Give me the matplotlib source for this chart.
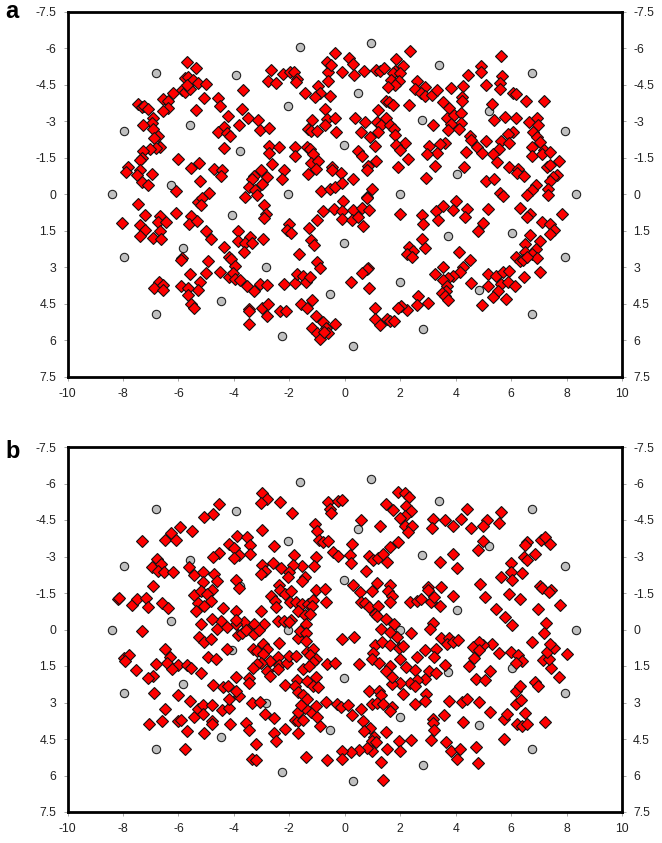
import numpy as np
import matplotlib
matplotlib.use('Agg')
import matplotlib.pyplot as plt

plt.rcParams['font.family'] = ['Liberation Sans', 'DejaVu Sans']
plt.rcParams['axes.unicode_minus'] = False

# grey reference spots, same in both panels
grey_x = [-6.79,-3.94,-1.62,-2.03,-7.96,-5.59,-3.77,-6.27,-8.4,-2.03,0.94,3.41,6.74,0.46,5.21,2.8,7.95,-0.03,4.05,2.0,8.34,
          -4.07,-5.84,-7.96,-2.84,-0.53,-4.45,-6.79,-2.25,-0.03,3.71,6.02,7.95,2.0,4.84,6.74,2.83,0.30]
grey_y = [-4.96,-4.88,-6.05,-3.62,-2.60,-2.85,-1.78,-0.36,0,0,-6.2,-5.29,-4.96,-4.14,-3.43,-3.05,-2.6,-2.03,-0.81,0,0,
          0.84,2.23,2.59,3.0,4.11,4.41,4.92,5.84,2.0,1.73,1.59,2.59,3.6,3.92,4.92,5.56,6.23]

# red spots panel a, (x, y)
red_a = [(-5.70,-5.41),(-5.35,-5.16),(-5.76,-4.75),(-5.64,-4.82),(-5.46,-4.68),(-5.28,-4.58),(-5.01,-4.52),(-5.88,-4.27),(-5.76,-4.21),(-5.58,-4.30),
(-5.70,-4.48),(-6.18,-4.14),(-6.57,-3.89),(-6.39,-3.81),(-6.37,-3.52),(-6.55,-3.41),(-5.06,-3.93),(-4.56,-3.93),(-4.51,-3.62),(-5.38,-3.47),
(-3.68,-4.26),(-3.69,-3.49),(-4.22,-3.21),(-3.50,-3.14),(-3.13,-3.05),(-3.80,-2.82),(-3.04,-2.63),(-2.73,-2.71),(-4.36,-2.77),(-4.56,-2.56),
(-4.25,-2.53),(-4.13,-2.38),(-4.34,-1.89),(-7.46,-3.71),(-7.32,-3.56),(-7.24,-3.62),(-7.08,-3.49),(-6.92,-3.11),(-6.97,-2.93),(-7.28,-2.84),
(-6.90,-2.66),(-6.75,-2.38),(-6.88,-2.32),(-6.68,-1.95),(-6.81,-1.88),(-7.02,-1.84),(-7.28,-1.78),(-7.32,-1.47),(-7.40,-1.40),(-6.00,-1.44),
(-5.25,-1.27),(-5.53,-1.07),(-4.72,-1.04),(-4.41,-0.97),(-4.48,-0.75),(-5.23,-0.53),(-6.07,-0.11),(-7.82,-1.10),(-7.90,-0.90),(-7.40,-0.99),
(-7.50,-0.78),(-7.30,-0.51),(-7.08,-0.37),(-6.94,-0.81),(-4.89,-0.03),(-2.67,-5.10),(-2.22,-4.95),(-1.97,-5.03),(-1.83,-5.00),(-1.71,-4.71),
(-1.75,-4.62),(-2.78,-4.64),(-2.48,-4.55),(-1.45,-4.14),(-0.95,-4.44),(-0.89,-4.16),(-1.06,-3.99),(-0.53,-4.04),(-0.59,-5.00),(-0.59,-4.66),
(-0.65,-5.41),(-0.50,-5.30),(-0.34,-5.81),(-0.71,-3.49),(-1.18,-3.04),(-0.65,-3.07),(-0.35,-3.11),(-0.71,-2.84),(-1.33,-2.67),(-1.23,-2.60),
(-1.01,-2.58),(-0.31,-2.55),(-2.73,-1.96),(-2.37,-1.92),(-2.73,-1.67),(-1.81,-1.92),(-1.81,-1.58),(-1.36,-1.93),(-1.27,-1.85),(-1.13,-1.63),
(-1.23,-1.26),(-0.95,-1.37),(-1.05,-1.05),(-2.61,-1.22),(-2.18,-1.01),(-2.27,-0.63),(-1.33,-0.82),(-2.81,-0.71),(-3.02,-0.97),(-3.29,-0.75),
(-3.35,-0.62),(-3.44,-0.30),(-2.99,-0.40),(-3.23,-0.16),(-3.17,0.04),(-0.47,-1.10),(-0.47,-0.99),(-0.85,-0.11),(-0.53,-0.23),(-0.35,-0.30),(-3.58,0.11),
(0.15,-5.60),(0.30,-5.34),(-0.09,-5.03),(0.32,-4.89),(0.68,-5.07),(1.12,-5.10),(1.27,-5.07),(1.42,-5.18),(1.85,-5.55),(2.11,-5.27),
(2.34,-5.89),(1.81,-5.07),(1.75,-4.96),(1.99,-4.96),(1.67,-4.68),(1.97,-4.66),(1.81,-4.48),(1.56,-4.40),(2.59,-4.66),(2.53,-4.30),
(2.89,-4.40),(2.74,-4.14),(2.89,-4.04),(3.13,-4.07),(3.33,-4.26),(3.85,-4.37),(4.26,-4.44),(4.46,-4.90),(4.92,-5.26),(4.91,-5.00),
(5.64,-5.67),(5.68,-4.84),(5.60,-4.55),(5.60,-4.30),(5.09,-4.47),(6.07,-4.14),(6.16,-4.11),(6.52,-3.82),(7.18,-3.82),(4.23,-4.00),
(4.23,-3.81),(3.55,-3.77),(3.77,-3.53),(2.30,-3.64),(1.49,-3.84),(1.61,-3.79),(1.73,-3.67),(1.19,-3.44),(0.38,-3.12),(0.73,-2.96),
(1.15,-2.96),(1.29,-2.84),(1.49,-3.11),(1.63,-2.84),(1.79,-2.67),(0.58,-2.55),(0.91,-2.36),(1.21,-2.56),(1.80,-2.44),(3.20,-2.84),
(3.67,-3.14),(3.94,-3.25),(4.19,-3.32),(4.21,-2.93),(3.82,-2.86),(3.73,-2.63),(4.13,-2.67),(5.32,-3.71),(5.37,-3.03),(5.78,-3.15),
(6.19,-3.14),(6.65,-2.97),(6.94,-3.11),(6.98,-2.84),(6.80,-2.56),(6.94,-2.36),(7.04,-2.15),(6.08,-2.55),(5.90,-2.47),(5.62,-2.19),
(5.91,-2.10),(5.09,-2.18),(4.50,-2.40),(4.57,-2.22),(4.76,-1.92),(4.95,-1.68),(4.37,-1.74),(3.61,-2.08),(3.45,-2.05),(3.04,-1.96),
(3.31,-1.67),(2.95,-1.63),(2.17,-2.08),(1.85,-2.01),(2.01,-1.81),(1.10,-1.96),(0.49,-1.79),(0.64,-1.55),(1.14,-1.34),(0.85,-1.16),
(0.79,-0.99),(2.27,-1.44),(1.91,-1.10),(3.25,-1.16),(4.30,-1.11),(2.92,-0.67),(5.09,-0.52),(5.38,-0.62),(5.56,-1.86),(5.36,-1.63),
(5.49,-1.33),(5.92,-1.11),(6.26,-1.05),(6.21,-0.88),(6.47,-0.74),(6.75,-1.93),(6.75,-1.56),(7.17,-1.81),(7.12,-1.64),(7.40,-1.73),
(7.72,-1.36),(7.28,-1.12),(7.40,-1.19),(7.66,-0.79),(7.50,-0.71),(7.40,-0.55),(7.34,-0.23),(6.89,-0.36),(6.74,-0.16),(6.56,0.04),
(7.32,0.04),(5.60,-0.03),(5.72,0.07),(0.98,-0.22),(0.79,0.11),(0.28,-0.63),(-0.14,-0.88),(-0.09,-0.47),
(-7.44,0.40),(-7.20,0.84),(-8.04,1.19),(-7.38,1.25),(-7.21,1.48),(-7.37,1.73),(-6.65,0.89),(-6.72,1.14),(-6.43,1.16),(-6.68,1.53),
(-6.90,1.82),(-6.62,1.84),(-6.09,0.79),(-5.54,0.90),(-5.61,1.23),(-5.34,1.10),(-5.01,1.51),(-4.81,1.86),(-5.31,0.34),(-5.16,0.18),
(-5.19,0.45),(-2.91,0.45),(-2.85,0.82),(-2.91,1.00),(-3.86,1.52),(-3.85,1.93),(-3.41,1.75),(-3.58,2.00),(-3.35,2.00),(-2.94,1.85),
(-3.65,2.38),(-4.36,2.19),(-4.19,2.58),(-4.09,2.66),(-3.97,2.96),(-5.88,2.64),(-5.90,2.71),(-4.93,2.73),(-5.58,3.30),(-4.99,3.25),
(-4.50,3.18),(-5.22,3.63),(-5.28,3.95),(-5.91,3.79),(-5.67,3.84),(-5.64,4.15),(-5.53,4.51),(-5.44,4.67),(-6.71,3.63),(-6.88,3.85),
(-6.57,3.74),(-6.54,3.92),(-4.16,3.41),(-4.04,3.26),(-3.97,3.47),(-3.77,3.52),(-3.53,3.77),(-3.27,4.00),(-3.05,3.70),(-2.81,3.75),
(-2.19,3.71),(-1.79,3.67),(-1.73,3.30),(-1.51,3.37),(-1.41,3.60),(-1.25,3.41),(-3.46,4.70),(-3.46,4.79),(-2.99,4.68),(-2.78,4.51),
(-2.81,5.01),(-3.44,5.32),(-2.33,4.82),(-2.13,4.79),(-1.56,4.51),(-1.37,4.66),(-1.18,4.37),(-1.03,4.99),(-1.17,5.48),(-1.01,5.70),
(-0.89,5.95),(-0.77,5.27),(-0.67,5.48),(-0.59,5.70),(-0.75,5.66),(-0.35,5.34),(-1.66,2.48),(-1.00,2.78),(-0.90,3.03),(-1.23,1.89),
(-1.11,2.10),(-2.00,1.23),(-2.09,1.48),(-1.94,1.59),(-1.29,1.38),(-0.99,1.05),(-0.78,0.70),(-0.38,0.62),
(-0.08,0.29),(-0.11,0.68),(0.28,0.66),(0.64,0.59),(0.89,0.66),(-0.11,1.03),(0.25,1.05),(0.49,0.96),(0.67,1.29),(0.79,0.14),
(2.00,0.81),(2.78,0.84),(2.84,1.21),(3.29,0.68),(3.55,0.49),(3.35,1.05),(4.01,0.29),(3.91,0.66),(4.41,0.63),(4.35,0.93),
(5.15,0.63),(4.98,1.18),(4.80,1.52),(6.33,0.56),(6.68,0.82),(6.58,0.96),(7.11,1.14),(7.40,1.21),(7.82,0.82),(7.54,1.48),
(7.40,1.62),(6.68,1.70),(6.50,2.03),(7.06,1.93),(6.89,2.25),(6.50,2.37),(6.75,2.47),(6.94,2.62),(6.16,2.59),(6.32,2.74),
(6.44,2.71),(6.56,2.58),(2.77,1.86),(2.90,2.22),(2.33,2.19),(2.45,2.34),(2.24,2.48),(2.41,2.58),(0.85,3.03),(0.79,3.08),
(0.64,3.25),(0.22,3.59),(0.89,3.84),(4.12,2.37),(4.53,2.70),(3.55,3.01),(3.25,3.29),(4.27,3.01),(4.15,3.21),(3.89,3.36),
(3.73,3.44),(3.53,3.53),(3.67,3.78),(3.65,3.99),(3.51,4.07),(3.61,4.19),(3.72,4.34),(4.56,3.67),(5.18,3.30),(5.45,3.36),
(5.69,3.22),(5.91,3.15),(5.18,3.77),(5.62,3.71),(5.89,3.59),(6.13,3.79),(6.46,3.40),(7.04,3.18),(5.52,3.97),(5.35,4.21),
(5.83,4.29),(4.95,4.55),(2.63,4.19),(3.02,4.47),(2.60,4.55),(2.23,4.74),(2.02,4.60),(1.93,4.67),(1.08,4.67),(1.10,5.11),
(1.26,5.38),(1.51,5.15),(1.63,5.22),(1.77,5.22)]

# red spots panel b, (x, y)
red_b = [(-3.00,-5.63),(-2.81,-5.37),(-3.02,-5.18),(-2.32,-5.26),(-1.90,-4.77),(-4.54,-5.15),(-4.77,-4.75),(-5.08,-4.64),(-5.93,-4.23),(-5.50,-4.03),
(-6.27,-3.95),(-6.48,-3.66),(-6.09,-3.66),(-7.33,-3.63),(-2.98,-4.07),(-3.87,-3.84),(-3.52,-3.81),(-3.43,-3.47),(-4.16,-3.51),(-4.01,-3.33),
(-2.56,-3.44),(-3.41,-3.12),(-3.81,-3.07),(-4.01,-2.92),(-4.54,-3.15),(-4.77,-3.00),(-1.83,-3.08),(-1.02,-2.99),(-1.11,-2.59),(-1.53,-2.59),
(-1.88,-2.67),(-2.60,-2.74),(-2.98,-2.67),(-2.87,-2.42),(-3.02,-2.29),(-2.30,-2.53),(-2.02,-2.37),(-2.03,-2.16),(-1.43,-2.16),(-1.53,-2.00),
(-0.61,-5.26),(-0.23,-5.29),(-0.55,-4.97),(-0.50,-4.78),(-1.06,-4.34),(-1.01,-4.03),(-0.93,-3.67),(-0.77,-3.60),(-0.61,-3.64),(-0.43,-3.18),
(-0.23,-3.03),(-6.77,-2.90),(-6.96,-2.58),(-6.61,-2.68),(-6.75,-2.42),(-6.51,-2.38),(-6.19,-2.37),(-5.60,-2.58),(-5.43,-2.23),(-5.10,-2.36),
(-4.70,-2.30),(-5.11,-1.95),(-4.59,-2.00),(-3.92,-2.03),(-3.80,-1.71),(-6.90,-1.79),(-8.19,-1.25),(-8.13,-1.30),(-7.66,-0.99),(-7.48,-1.25),
(-7.18,-1.30),(-7.09,-0.92),(-6.60,-1.07),(-6.37,-0.90),(-5.42,-1.41),(-5.20,-1.59),(-4.79,-1.64),(-4.97,-1.45),(-5.29,-1.10),(-4.82,-1.18),
(-5.06,-0.97),(-5.37,-0.77),(-4.39,-0.90),(-3.93,-0.75),(-3.03,-0.78),(-2.36,-1.82),(-2.33,-1.63),(-2.14,-1.44),(-1.94,-1.59),(-2.66,-1.38),
(-2.51,-1.19),(-2.48,-0.92),(-1.98,-1.12),(-1.77,-1.11),(-1.55,-1.04),(-1.33,-1.04),(-1.13,-1.21),(-1.19,-0.97),(-1.02,-1.63),(-0.72,-1.66),
(-0.69,-1.11),(-1.68,-0.74),(-1.45,-0.60),(-1.24,-0.62),(-1.39,-0.21),(-2.40,-0.36),(-2.19,-0.36),(-1.94,-0.40),(-2.00,-0.29),(-2.92,-0.22),
(-3.26,-0.22),(-3.53,-0.01),(-3.65,-0.29),(-3.93,-0.22),(-3.93,-0.40),(-4.47,-0.33),(-4.80,-0.42),(-4.59,-0.01),(-4.24,-0.10),(-5.20,-0.22),
(-7.33,0.05),(-5.24,0.32),(-5.07,0.53),(-4.83,0.37),(-3.86,0.23),(-3.69,0.16),(-3.56,0.01),(-3.29,0.19),(-3.11,0.03),(-2.94,0.58),
(-2.36,0.56),(-1.67,0.34),(-1.61,0.05),(-1.38,0.16),(-1.39,0.47),(-6.48,0.82),(-6.30,1.12),(-6.42,1.37),(-6.00,1.44),(-6.24,1.63),
(-5.68,1.47),(-5.54,1.60),(-5.18,1.78),(-4.24,0.79),(-4.92,1.14),(-4.63,1.22),(-7.96,1.19),(-7.77,1.05),(-7.92,1.30),(-7.52,1.66),
(-6.81,1.42),(-6.90,1.90),(-7.08,2.01),(-6.88,2.60),(-6.03,2.71),(-5.58,2.93),(-6.49,3.25),(-7.06,3.90),(-6.59,3.75),(-6.03,3.77),
(-5.91,3.70),(-5.69,4.18),(-5.08,4.25),(-5.77,4.93),(-5.42,3.59),(-5.28,3.25),(-5.13,3.12),(-5.12,3.47),(-4.80,3.10),(-4.44,3.29),
(-4.17,3.23),(-4.19,2.86),(-3.82,2.74),(-3.93,2.53),(-4.80,3.75),(-4.80,3.88),(-4.15,3.88),(-4.75,2.29),(-4.40,2.38),(-4.22,2.33),
(-3.91,1.97),(-3.46,2.01),(-3.45,2.18),(-3.33,3.04),(-3.04,2.96),(-3.55,3.84),(-3.46,4.15),(-2.87,3.48),(-2.55,3.63),(-3.20,4.71),
(-3.35,5.34),(-3.21,5.37),(-2.55,4.25),(-2.16,4.10),(-2.48,4.59),(-1.67,4.27),(-1.38,5.22),(-0.64,5.37),(-0.89,3.95),(-1.81,3.73),
(-1.67,3.75),(-1.51,3.73),(-1.68,3.38),(-1.23,3.38),(-1.01,3.59),(-1.43,3.21),(-1.58,3.11),(-1.02,3.14),(-0.66,2.97),(-0.29,3.07),
(-2.15,2.29),(-1.73,2.08),(-1.79,2.33),(-1.69,2.56),(-1.49,2.70),(-1.35,2.86),(-1.37,2.12),(-1.02,1.97),(-1.13,2.32),(-0.95,2.38),
(-3.32,0.82),(-3.17,0.89),(-2.81,0.81),(-2.96,1.01),(-2.69,1.29),(-3.02,1.36),(-3.17,1.42),(-3.32,1.58),(-2.40,1.12),(-2.38,1.44),
(-2.81,1.70),(-2.69,1.90),(-2.40,1.63),(-2.09,1.37),(-2.00,1.10),(-1.77,1.10),(-1.37,0.92),(-1.13,0.81),(-1.25,1.05),(-1.03,1.23),
(-1.13,1.33),(-1.51,1.63),(-1.29,1.49),(-0.63,1.40),(-0.34,1.37),
(-0.09,-5.33),(1.92,-5.67),(2.17,-5.59),(2.31,-5.45),(1.50,-5.16),(1.73,-4.93),(2.22,-5.07),(2.39,-4.86),(2.18,-4.67),(1.98,-4.58),
(0.60,-4.52),(1.27,-4.25),(2.16,-4.26),(2.44,-4.25),(2.29,-4.00),(3.20,-4.53),(3.16,-4.18),(3.61,-4.49),(3.89,-4.25),(4.20,-4.55),
(4.42,-4.97),(4.55,-4.18),(5.14,-4.49),(4.99,-4.27),(5.64,-4.81),(5.57,-4.37),(4.99,-3.63),(4.79,-3.27),(3.90,-3.12),(3.42,-2.78),
(4.05,-2.53),(6.56,-3.58),(6.50,-3.49),(7.09,-3.67),(7.24,-3.79),(7.41,-3.53),(6.88,-3.10),(6.45,-3.00),(6.56,-2.86),(5.98,-2.73),
(5.99,-2.37),(6.39,-2.34),(5.65,-2.16),(6.05,-2.04),(4.89,-1.85),(5.07,-1.33),(5.92,-1.45),(6.32,-1.25),(5.45,-0.85),(5.78,-0.52),
(6.03,-0.19),(6.98,-0.85),(7.77,-1.01),(7.26,-0.26),(7.18,0.16),(7.06,-1.77),(7.13,-1.71),(7.45,-1.63),(7.36,-1.55),(0.25,-3.52),
(0.19,-3.07),(0.21,-2.73),(0.78,-2.41),(0.87,-3.03),(1.03,-2.86),(1.21,-2.93),(1.37,-3.11),(1.51,-2.79),(1.63,-3.41),(1.93,-3.60),
(0.30,-1.84),(0.56,-1.56),(0.99,-1.58),(1.16,-1.92),(1.65,-1.84),(1.55,-1.58),(1.71,-1.38),(1.63,-1.11),(0.58,-1.11),(0.73,-1.08),
(0.89,-0.92),(1.21,-0.96),(1.09,-0.63),(1.15,-0.56),(1.47,-0.45),(1.77,-0.23),(1.31,-0.03),(1.63,0.12),(2.39,0.16),(2.34,-1.14),
(2.62,-1.16),(2.76,-1.25),(3.11,-1.14),(3.23,-1.34),(3.01,-1.75),(3.01,-1.63),(3.47,-1.75),(3.90,-1.38),(3.45,-0.97),(3.20,-0.27),(3.08,-0.03),
(-0.09,0.40),(0.33,0.32),(1.09,0.64),(1.33,0.51),(1.65,0.64),(1.89,0.30),(1.97,0.78),(2.11,0.67),(1.03,0.95),(0.99,1.22),
(1.23,1.36),(0.51,1.40),(1.99,1.22),(1.65,1.49),(1.47,1.70),(2.20,1.53),(2.59,1.15),(2.88,0.85),(3.30,0.82),(3.23,1.12),
(3.47,0.34),(3.77,0.33),(3.67,0.58),(3.89,0.53),(4.07,0.44),(3.62,1.47),(2.54,1.66),(3.05,1.71),(3.28,1.77),(2.89,2.05),
(2.62,2.08),(2.35,2.19),(2.53,2.32),(2.01,2.19),(1.71,2.22),(1.69,1.95),(2.11,2.67),(0.89,2.53),(1.25,2.52),(1.29,2.70),
(0.97,3.07),(1.15,3.01),(1.39,3.07),(1.71,3.18),(1.65,3.36),(-0.15,3.19),(0.13,3.11),(0.60,3.27),(0.27,3.53),(0.67,3.77),
(0.91,4.04),(0.70,4.18),(1.48,4.23),(1.07,4.41),(0.97,4.59),(1.13,4.64),(1.95,4.58),(2.38,4.55),(1.51,4.90),(1.99,5.00),
(0.99,5.00),(0.79,4.86),(0.51,4.97),(0.21,5.03),(-0.11,5.00),(-0.09,5.33),(1.29,5.44),(1.39,6.19),(2.52,3.08),(2.93,2.67),
(2.90,2.95),(3.75,2.93),(4.24,2.97),(4.40,2.84),(4.85,2.96),(5.25,3.38),(3.58,3.52),(3.20,3.66),(3.18,3.84),(3.22,4.11),
(3.12,4.55),(3.66,4.62),(3.84,5.00),(4.15,4.93),(4.05,5.33),(4.72,4.82),(4.80,5.47),(4.27,3.79),(5.75,4.52),(5.73,3.68),
(5.87,3.47),(6.17,3.08),(6.36,2.89),(6.49,3.45),(6.23,3.88),(6.39,3.97),(6.58,3.89),(7.23,3.79),(6.17,2.53),(6.33,2.32),
(6.85,2.15),(6.98,2.33),(7.71,1.97),(7.45,1.60),(7.16,1.26),(7.38,1.23),(8.02,0.99),(7.28,0.92),(7.54,0.78),(7.40,0.58),
(6.76,0.53),(6.00,0.92),(6.26,1.03),(6.40,1.30),(6.17,1.37),(5.56,0.96),(5.31,0.60),(4.99,0.64),(4.84,0.51),(4.61,0.71),
(4.85,0.85),(4.67,1.16),(4.48,1.51),(5.24,1.71),(4.72,2.04),(5.06,2.08)]

x_ticks = [-10, -8, -6, -4, -2, 0, 2, 4, 6, 8, 10]
y_ticks = [-7.5, -6, -4.5, -3, -1.5, 0, 1.5, 3, 4.5, 6, 7.5]
y_labels = ['-7.5', '-6', '-4.5', '-3', '-1.5', '0', '1.5', '3', '4.5', '6', '7.5']

W, H = 662.0, 843.0
fig = plt.figure(figsize=(6.62, 8.43), dpi=100)


def panel(top, bottom, pts, letter, letter_y):
    ax = fig.add_axes([67.5/W, 1 - bottom/H, (622 - 67.5)/W, (bottom - top)/H])
    ax.plot(grey_x, grey_y, 'o', ms=6.0, mfc='#c0c0c0', mec='#222222', mew=0.8, ls='none', zorder=2, clip_on=False)
    pts = np.array(pts)
    ax.plot(pts[:, 0], pts[:, 1], 'D', ms=5.7, mfc='#ff0000', mec='#111111', mew=0.8, ls='none', zorder=3)
    ax.set_xlim(-10, 10)
    ax.set_ylim(7.5, -7.5)
    ax.set_xticks(x_ticks)
    ax.set_yticks(y_ticks)
    ax.set_yticklabels(y_labels)
    ax.tick_params(axis='both', direction='out', length=3, width=0.6, color='#999999', labelsize=8.8,
                   labelcolor='#222222', pad=5, left=True, right=True, labelleft=True, labelright=True)
    for s in ax.spines.values():
        s.set_linewidth(2.0)
        s.set_color('black')
    fig.text(5/W, 1 - letter_y/H, letter, fontsize=17, fontweight='bold', va='baseline', ha='left', color='black')
    return ax


panel(11.5, 376.7, red_a, 'a', 18.5)
panel(447, 812, red_b, 'b', 458)

fig.savefig('out.png', dpi=100)
